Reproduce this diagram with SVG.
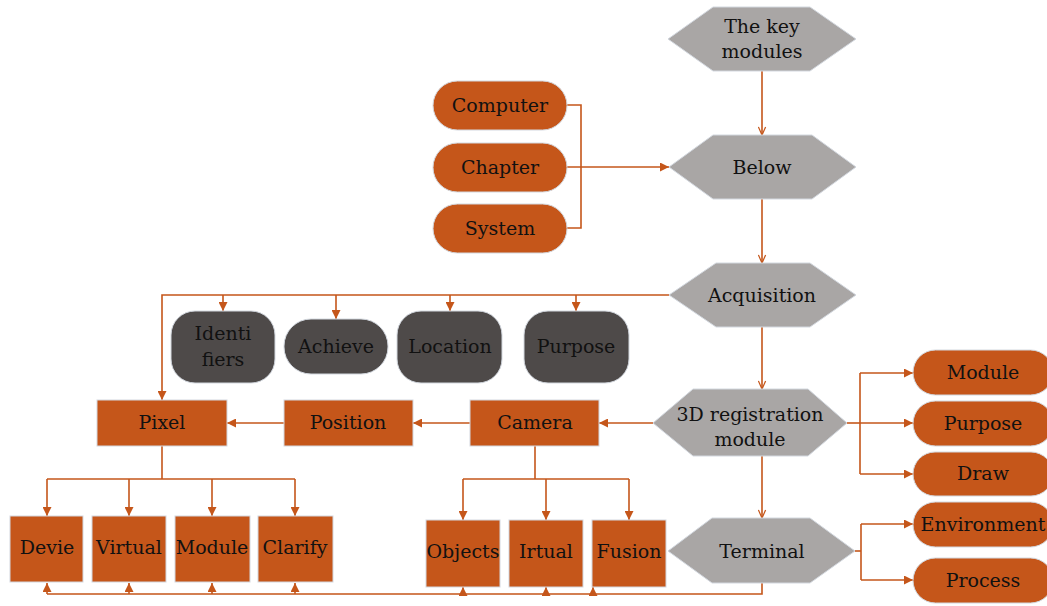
<svg xmlns="http://www.w3.org/2000/svg" width="1047" height="606" viewBox="0 0 1047 606">
<defs>
<style>
.o{fill:#C5561A;stroke:#d3d8df;stroke-width:1}
.g{fill:#A9A6A5;stroke:#d3d8df;stroke-width:1}
.d{fill:#4E4A49;stroke:#d3d8df;stroke-width:1}
text{font-family:"DejaVu Serif","Liberation Serif",serif;font-size:19px;fill:#111;text-anchor:middle}
.c path{fill:none;stroke:#C5561A;stroke-width:1.6}
</style>
<marker id="a" viewBox="0 0 10 10" refX="10" refY="5" markerWidth="9" markerHeight="9" markerUnits="userSpaceOnUse" orient="auto"><path d="M0,0L10,5L0,10z" fill="#C5561A"/></marker>
<marker id="v" viewBox="0 0 10 10" refX="10" refY="5" markerWidth="9" markerHeight="9" markerUnits="userSpaceOnUse" orient="auto"><path d="M1,1L10,5L1,9" fill="none" stroke="#C5561A" stroke-width="1.4"/></marker>
</defs>
<rect width="1047" height="606" fill="#fff"/>
<g class="c">
<path d="M762,71V135" marker-end="url(#v)"/>
<path d="M567,105H581V228H567"/>
<path d="M567,167H669" marker-end="url(#a)"/>
<path d="M762,199V263" marker-end="url(#v)"/>
<path d="M669,295H162V400" marker-end="url(#a)"/>
<path d="M223,295V311" marker-end="url(#a)"/>
<path d="M336,295V319" marker-end="url(#a)"/>
<path d="M450,295V311" marker-end="url(#a)"/>
<path d="M576,295V311" marker-end="url(#a)"/>
<path d="M762,327V389" marker-end="url(#v)"/>
<path d="M653,423H599" marker-end="url(#a)"/>
<path d="M470,423H413" marker-end="url(#a)"/>
<path d="M284,423H227" marker-end="url(#a)"/>
<path d="M162,446V479"/>
<path d="M47,479H295"/>
<path d="M47,479V516" marker-end="url(#a)"/>
<path d="M129,479V516" marker-end="url(#a)"/>
<path d="M212,479V516" marker-end="url(#a)"/>
<path d="M295,479V516" marker-end="url(#a)"/>
<path d="M535,446V479"/>
<path d="M463,479H629"/>
<path d="M463,479V520" marker-end="url(#a)"/>
<path d="M546,479V520" marker-end="url(#a)"/>
<path d="M629,479V520" marker-end="url(#a)"/>
<path d="M762,456V518" marker-end="url(#v)"/>
<path d="M847,423H860"/>
<path d="M860,373V474"/>
<path d="M860,373H913" marker-end="url(#a)"/>
<path d="M860,423H913" marker-end="url(#a)"/>
<path d="M860,474H913" marker-end="url(#a)"/>
<path d="M855,551H861"/>
<path d="M861,524V580"/>
<path d="M861,524H913" marker-end="url(#a)"/>
<path d="M861,580H913" marker-end="url(#a)"/>
<path d="M762,583V594H47" stroke-width="2"/>
<path d="M47,594V583" marker-end="url(#a)"/>
<path d="M129,594V583" marker-end="url(#a)"/>
<path d="M212,594V583" marker-end="url(#a)"/>
<path d="M295,594V583" marker-end="url(#a)"/>
<path d="M463,594V587" marker-end="url(#a)"/>
<path d="M546,594V587" marker-end="url(#a)"/>
<path d="M593,594V587" marker-end="url(#a)"/>
</g>
<g id="keymodules"><path class="g" d="M668,39L713,7H810L856,39L810,71H713Z"/><text x="762" y="33">The key</text><text x="762" y="58">modules</text></g>
<g id="computer"><rect class="o" x="433" y="81" width="134" height="49" rx="24.5"/><text x="500" y="112">Computer</text></g>
<g id="chapter"><rect class="o" x="433" y="143" width="134" height="49" rx="24.5"/><text x="500" y="174">Chapter</text></g>
<g id="system"><rect class="o" x="433" y="204" width="134" height="49" rx="24.5"/><text x="500" y="235">System</text></g>
<g id="below"><path class="g" d="M669,167L713,135H812L856,167L812,199H713Z"/><text x="762" y="174">Below</text></g>
<g id="acquisition"><path class="g" d="M669,295L716,263H810L856,295L810,327H716Z"/><text x="762" y="302">Acquisition</text></g>
<g id="identifiers"><rect class="d" x="171" y="311" width="104" height="72" rx="24"/><text x="223" y="340">Identi</text><text x="223" y="366">fiers</text></g>
<g id="achieve"><rect class="d" x="284" y="319" width="104" height="55" rx="27"/><text x="336" y="353">Achieve</text></g>
<g id="location"><rect class="d" x="397" y="311" width="105" height="72" rx="24"/><text x="450" y="353">Location</text></g>
<g id="purpose1"><rect class="d" x="524" y="311" width="105" height="72" rx="24"/><text x="576" y="353">Purpose</text></g>
<g id="pixel"><rect class="o" x="97" y="400" width="130" height="46"/><text x="162" y="429">Pixel</text></g>
<g id="position"><rect class="o" x="284" y="400" width="129" height="46"/><text x="348" y="429">Position</text></g>
<g id="camera"><rect class="o" x="470" y="400" width="129" height="46"/><text x="535" y="429">Camera</text></g>
<g id="registration"><path class="g" d="M653,423L693,389H808L847,423L808,456H693Z"/><text x="750" y="421">3D registration</text><text x="750" y="446">module</text></g>
<g id="module1"><rect class="o" x="913" y="350" width="140" height="45" rx="22.5"/><text x="983" y="379">Module</text></g>
<g id="purpose2"><rect class="o" x="913" y="401" width="140" height="45" rx="22.5"/><text x="983" y="430">Purpose</text></g>
<g id="draw"><rect class="o" x="913" y="452" width="140" height="44" rx="22"/><text x="983" y="480">Draw</text></g>
<g id="environment"><rect class="o" x="913" y="502" width="140" height="45" rx="22.5"/><text x="983" y="531">Environment</text></g>
<g id="process"><rect class="o" x="913" y="558" width="140" height="45" rx="22.5"/><text x="983" y="587">Process</text></g>
<g id="devie"><rect class="o" x="10" y="516" width="73" height="66"/><text x="47" y="554">Devie</text></g>
<g id="virtual"><rect class="o" x="92" y="516" width="74" height="66"/><text x="129" y="554">Virtual</text></g>
<g id="module2"><rect class="o" x="175" y="516" width="75" height="66"/><text x="212" y="554">Module</text></g>
<g id="clarify"><rect class="o" x="258" y="516" width="75" height="66"/><text x="295" y="554">Clarify</text></g>
<g id="objects"><rect class="o" x="426" y="520" width="74" height="67"/><text x="463" y="558">Objects</text></g>
<g id="irtual"><rect class="o" x="509" y="520" width="74" height="67"/><text x="546" y="558">Irtual</text></g>
<g id="fusion"><rect class="o" x="592" y="520" width="74" height="67"/><text x="629" y="558">Fusion</text></g>
<g id="terminal"><path class="g" d="M668,551L712,518H810L855,551L810,583H712Z"/><text x="762" y="558">Terminal</text></g>
</svg>
